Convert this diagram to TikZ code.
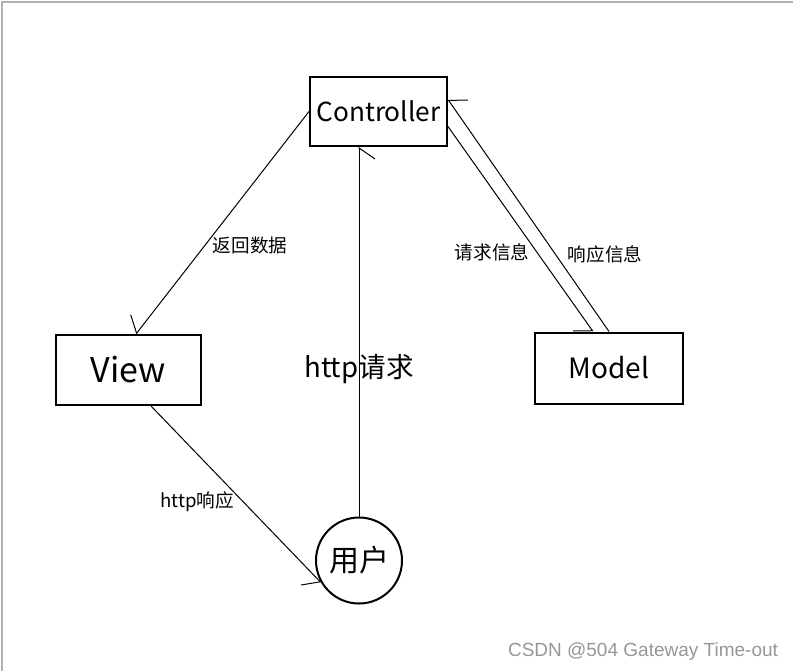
\documentclass[tikz,border=0pt]{standalone}
\usepackage{fontspec}
\setmainfont{Noto Sans CJK SC}
\newfontfamily\markfont{Liberation Sans}
\usetikzlibrary{arrows.meta,positioning}
\definecolor{framegray}{RGB}{178,178,178}
\definecolor{markgray}{RGB}{150,150,150}

\begin{document}
\begin{tikzpicture}[x=0.5pt, y=-0.5pt,
    box/.style={rectangle, draw, line width=1pt, inner sep=0pt},
    link/.style={line width=0.5pt, -{Straight Barb[harpoon, swap, length=5.5pt, width=16pt, line width=0.5pt]}},
    tag/.style={font=\fontsize{9.3pt}{11pt}\selectfont}]
    \useasboundingbox (0,0) rectangle (793,671);
    % frame
    \draw[framegray, line width=1pt] (1.5,671) -- (1.5,1.5) -- (793,1.5);

    % Controller
    \node[box, minimum width=68.5pt, minimum height=34.5pt, font=\fontsize{13.1pt}{16pt}\selectfont] (ctrl) at (378.5,111.5) {Controller};
    % View
    \node[box, minimum width=72.5pt, minimum height=35pt, font=\fontsize{17pt}{20pt}\selectfont] (view) at (128.5,370) {View};
    % Model
    \node[box, minimum width=74pt, minimum height=35.5pt, font=\fontsize{14pt}{16pt}\selectfont] (model) at (609,368) {Model};
    % user
    \node[circle, draw, line width=1pt, minimum size=43pt, inner sep=0pt, font=\fontsize{15pt}{17pt}\selectfont] (user) at (359,560.5) {用户};

    % labels
    \node[tag] (back) at (250,245) {返回数据};
    \node[font=\fontsize{13.8pt}{16pt}\selectfont] (req) at (359,369) {http请求};
    \node[tag] (askinfo) at (492,252) {请求信息};
    \node[tag] (answer) at (605,254) {响应信息};
    \node[tag] (resp) at (197,502) {http响应};

    % Arrows
    \draw[link] (ctrl.west) -- ([xshift=3.75pt]view.north);
    \draw[link] (user.north) -- (user.north |- ctrl.south);
    \draw[link] ([yshift=-7.5pt]ctrl.east) -- ([xshift=-8pt]model.north);
    \draw[link] (model.north) -- ([yshift=6pt]ctrl.east);
    \draw[link] ([xshift=11.25pt]view.south) -- (user.210);

    % watermark
    \node[markgray, font=\markfont\fontsize{9.5pt}{11pt}\selectfont] (mark) at (643,652) {CSDN @504 Gateway Time-out};
\end{tikzpicture}
\end{document}
